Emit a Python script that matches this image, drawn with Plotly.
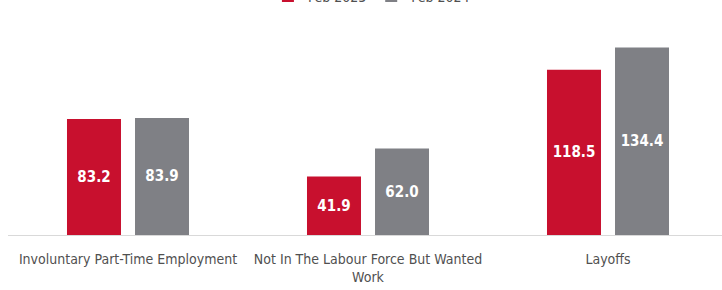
import plotly.graph_objects as go

categories = ["Involuntary Part-Time Employment", "Not In The Labour Force But Wanted<br>Work", "Layoffs"]
series_names = ["Feb 2023", "Feb 2024"]
feb_2023 = [83.2, 41.9, 118.5]
feb_2024 = [83.9, 62.0, 134.4]
colors = ["#C8102E", "#7F8085"]

FONT = "DejaVu Sans Condensed, sans-serif"

fig = go.Figure()
for name, vals, col, off in [(series_names[0], feb_2023, colors[0], -0.2542),
                             (series_names[1], feb_2024, colors[1], 0.0292)]:
    fig.add_trace(go.Bar(
        x=list(range(len(categories))), y=vals, name=name,
        marker=dict(color=col, line=dict(width=0)),
        width=0.225, offset=off,
        text=[f"{v:.1f}" for v in vals], textposition="inside",
        insidetextanchor="middle", textangle=0, constraintext="none",
        textfont=dict(family=FONT, size=15, color="white", weight="bold"),
        hoverinfo="skip",
    ))

fig.update_layout(
    width=722, height=290,
    margin=dict(l=8, r=0, t=10, b=55, autoexpand=False),
    plot_bgcolor="white", paper_bgcolor="white",
    barmode="overlay",
    font=dict(family=FONT, size=14, color="#505050"),
    legend=dict(orientation="h", xref="paper", yref="paper",
                x=0.509, xanchor="center", y=1.060, yanchor="middle",
                font=dict(size=14, color="#505050")),
)
fig.update_xaxes(
    range=[-0.5, -0.5 + 714 / 240], automargin=False,
    tickmode="array", tickvals=list(range(len(categories))), ticktext=categories,
    tickangle=0, ticklabelstandoff=11,
    showgrid=False, zeroline=False, showline=True, linecolor="#D9D9D9", linewidth=1,
    ticks="", tickfont=dict(size=14, color="#505050"),
)
fig.update_yaxes(range=[0, 225 / 1.395], visible=False, showgrid=False, zeroline=False)

fig.write_html("out.html", config={"displayModeBar": False},
               post_script="document.body.style.margin='0';")
